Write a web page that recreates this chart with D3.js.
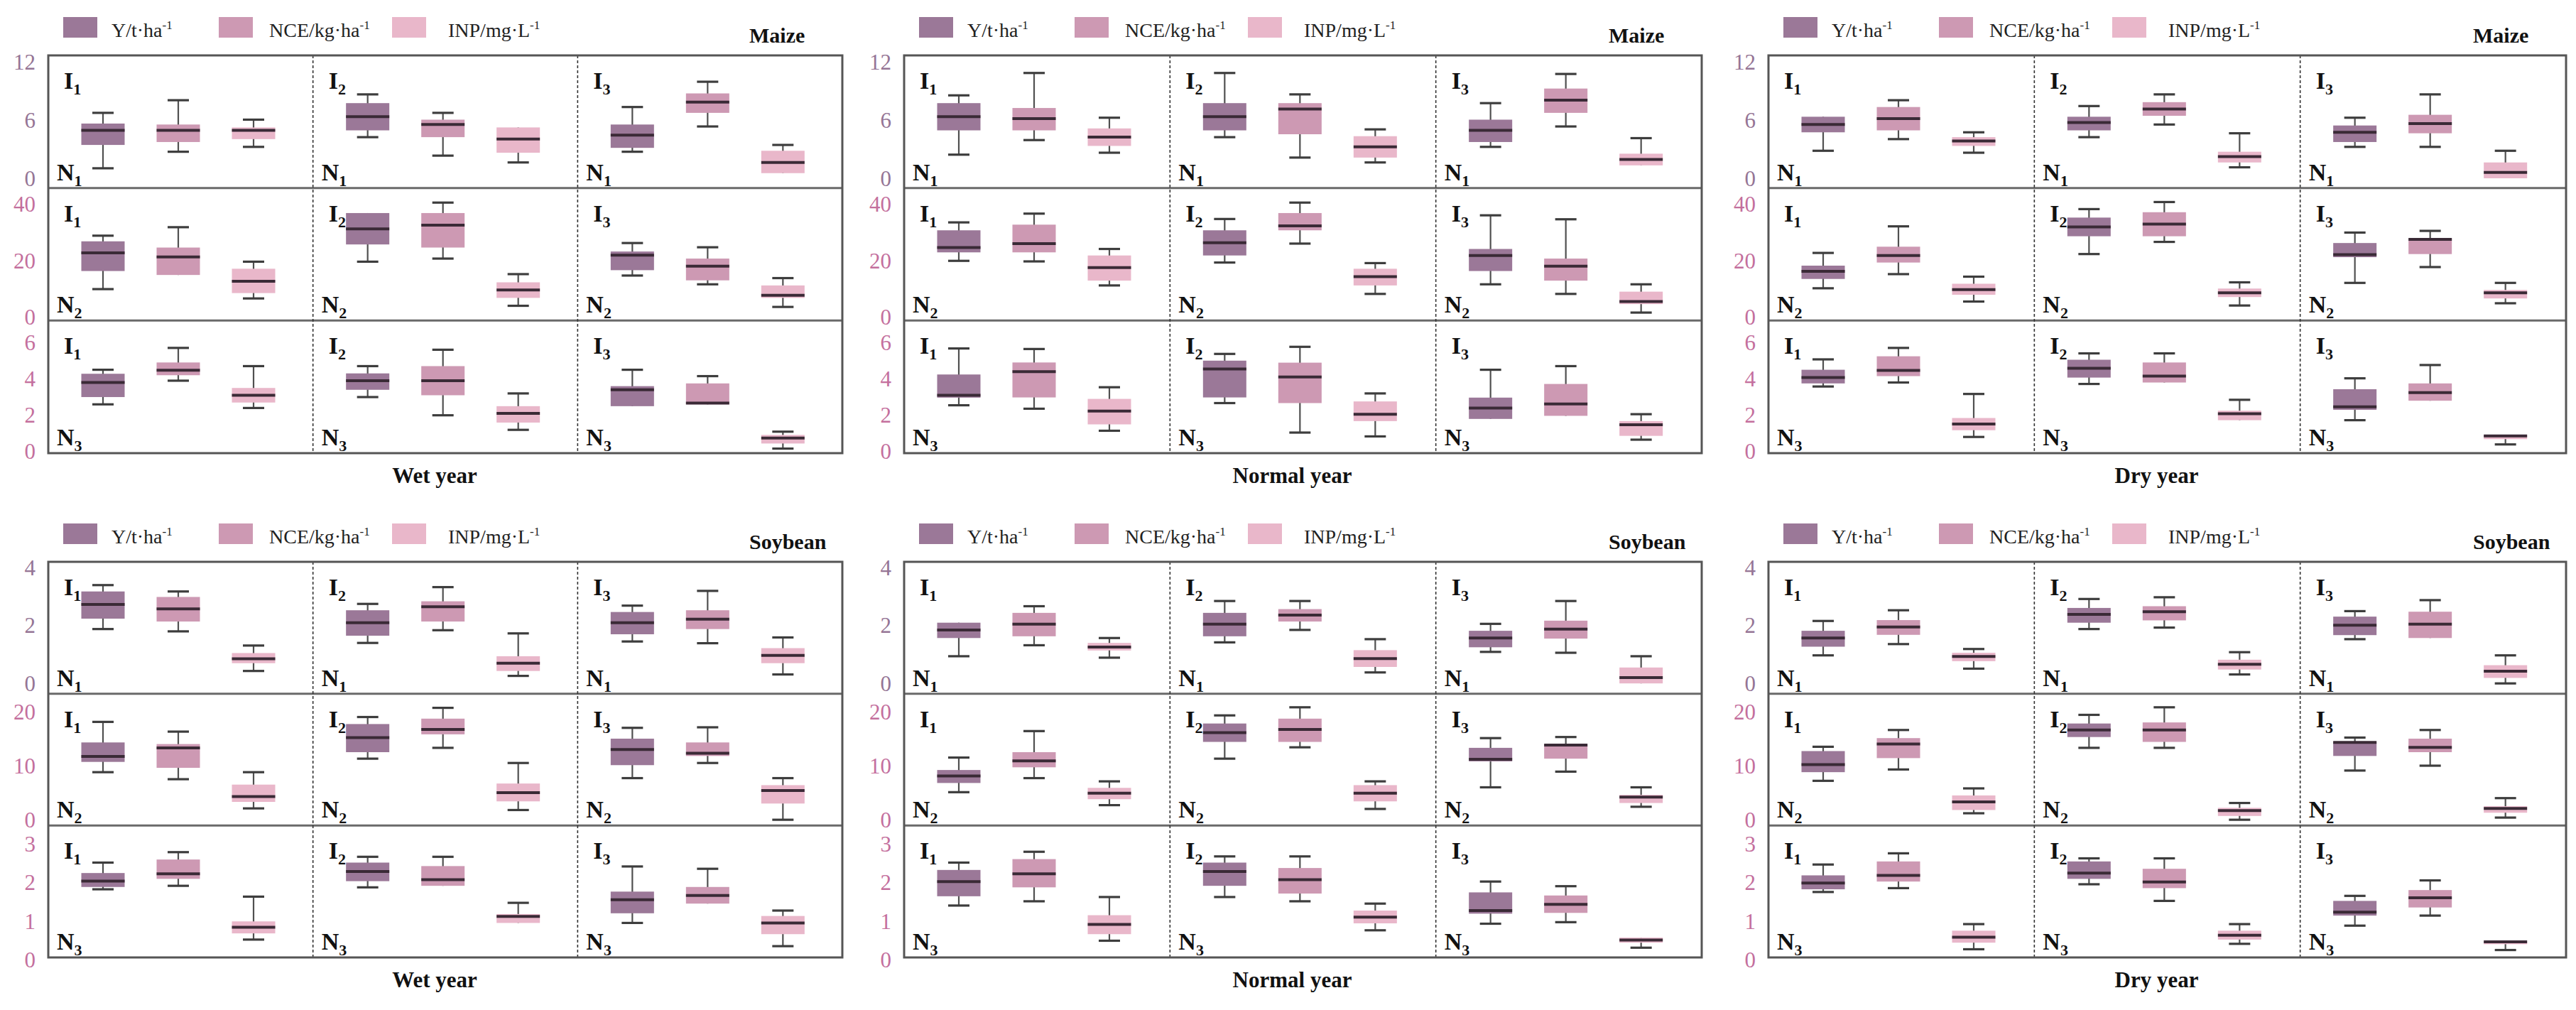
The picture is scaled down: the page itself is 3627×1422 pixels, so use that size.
<!DOCTYPE html>
<html>
<head>
<meta charset="utf-8">
<script src="https://cdn.jsdelivr.net/npm/d3@7"></script>
<style>
body { margin: 0; background: #fff; }
text { font-family: "Liberation Serif", "Times New Roman", serif; }
</style>
</head>
<body>
<svg id="chart"></svg>
<script>
const metrics = ['Y', 'NCE', 'INP'];
const legendLabels = ['Y/t·ha', 'NCE/kg·ha', 'INP/mg·L'];
const irrigation = ['1', '2', '3'];
const nitrogen = ['1', '2', '3'];
const years = ['Wet year', 'Normal year', 'Dry year'];
const crops = ['Maize', 'Soybean'];
const maizeTicks = [[0, 6, 12], [0, 20, 40], [0, 2, 4, 6]];
const soyTicks = [[0, 2, 4], [0, 10, 20], [0, 1, 2, 3]];

// box stats [min, q1, median, q3, max]
// rows N1..N3 -> cols I1..I3 -> Y, NCE, INP
const maizeWet = [
  [[[1.1,3.5,5.0,5.7,6.8],[2.8,3.8,5.0,5.6,8.1],[3.3,4.1,5.0,5.3,6.1]],
   [[4.3,5.0,6.4,7.8,8.7],[2.4,4.3,5.6,6.1,6.8],[1.7,2.7,4.1,5.3,5.3]],
   [[2.8,3.2,4.5,5.6,7.4],[5.4,6.8,7.9,8.8,10.0],[0.6,0.6,1.7,2.9,3.5]]],
  [[[10,16.4,22.8,26.9,28.9],[15,15,21.4,24.7,31.9],[6.7,8.6,12.8,17.2,19.7]],
   [[19.7,25.8,31.3,36.9,36.9],[20.8,24.7,32.6,36.9,40.6],[4.1,6.9,9.7,12.4,15.3]],
   [[14.8,16.7,22,23.3,26.3],[11.7,13.1,18.1,20.8,24.8],[3.7,6.9,7.8,11.3,13.9]]],
  [[[2.6,3.0,3.8,4.28,4.5],[3.9,4.2,4.47,4.9,5.7],[2.4,2.7,3.1,3.5,4.7]],
   [[3.0,3.4,3.9,4.3,4.7],[2.0,3.1,3.9,4.7,5.6],[1.2,1.6,2.1,2.5,3.2]],
   [[2.5,2.5,3.4,3.6,4.5],[2.6,2.6,2.67,3.75,4.15],[0.17,0.45,0.75,0.92,1.1]]]
];
const maizeNormal = [
  [[[2.5,5.0,6.4,7.8,8.6],[4.0,5.0,6.2,7.3,10.9],[2.7,3.4,4.3,5.2,6.3]],
   [[4.3,5.0,6.4,7.8,10.9],[2.2,4.6,7.2,7.8,8.7],[1.7,2.2,3.3,4.4,5.1]],
   [[3.3,3.8,5.0,6.1,7.8],[5.4,6.8,8.1,9.3,10.8],[1.4,1.4,2.0,2.6,4.2]]],
  [[[20,23,24.7,30.8,33.6],[19.8,23,26.1,32.8,36.7],[11.3,13,17.6,21.9,24.2]],
   [[19.4,21.9,26.4,30.8,34.8],[26.1,30.8,32.4,36.9,40.6],[8.3,11.3,14.4,17.2,19.2]],
   [[11.7,16.4,21.9,24.2,36.1],[8.3,13,18.1,20.8,34.7],[1.7,4.7,5.6,9.1,11.7]]],
  [[[2.55,2.97,3.1,4.24,5.67],[2.36,2.98,4.4,4.9,5.64],[1.15,1.5,2.23,2.9,3.54]],
   [[2.67,2.98,4.54,5.0,5.37],[1.05,2.67,4.1,4.89,5.76],[0.84,1.68,2.06,2.76,3.2]],
   [[1.8,1.8,2.4,2.97,4.5],[1.97,1.97,2.62,3.72,4.7],[0.66,0.87,1.48,1.68,2.06]]]
];
const maizeDry = [
  [[[2.9,4.8,5.6,6.4,6.4],[4.1,5.0,6.2,7.4,8.1],[2.7,3.4,3.9,4.3,4.8]],
   [[4.3,5.0,5.8,6.4,7.5],[5.6,6.5,7.2,7.9,8.7],[1.2,1.7,2.3,2.8,4.7]],
   [[3.3,3.8,4.8,5.5,6.3],[3.3,4.7,5.7,6.6,8.7],[0.07,0.07,0.67,1.7,2.9]]],
  [[[10.3,13.6,16.3,18.3,22.8],[15.3,19.4,21.9,25,32.2],[5.6,8,9.8,11.9,14.4]],
   [[22.4,28.7,32,35.3,38.3],[26.7,28.7,33,37.2,40.8],[4.2,7.2,8.7,10.2,12.4]],
   [[12.2,21.3,22.2,26.3,30],[17.8,22.4,27.6,27.8,30.6],[5,6.7,8.7,9.7,12.2]]],
  [[[3.58,3.75,4.07,4.5,5.07],[3.8,4.15,4.46,5.24,5.7],[0.81,1.18,1.52,1.85,3.17]],
   [[3.72,4.07,4.58,5.05,5.4],[3.8,3.8,4.15,4.9,5.4],[1.73,1.73,2.08,2.25,2.85]],
   [[1.73,2.3,2.47,3.43,4.03],[2.8,2.8,3.25,3.75,4.76],[0.4,0.69,0.87,0.9,0.9]]]
];
const soyWet = [
  [[[1.88,2.24,2.73,3.18,3.4],[1.8,2.14,2.58,2.99,3.18],[0.43,0.7,0.85,1.05,1.31]],
   [[1.4,1.65,2.1,2.53,2.75],[1.84,2.14,2.65,2.84,3.33],[0.26,0.43,0.7,0.94,1.73]],
   [[1.45,1.7,2.1,2.47,2.69],[1.39,1.88,2.22,2.53,3.2],[0.31,0.7,0.97,1.22,1.59]]],
  [[[8.9,10.8,11.8,14.4,18.2],[7.6,9.7,13.4,14.1,16.4],[2.2,3.4,4.4,6.6,8.9]],
   [[11.4,12.6,15.3,17.8,19.1],[13.4,15.9,16.8,18.8,20.8],[1.9,3.5,5.1,6.8,10.6]],
   [[7.8,10.2,13.1,15.1,17.1],[10.6,11.9,12.4,14.4,17.2],[0.1,3.1,5.5,6.5,7.8]]],
  [[[1.83,1.89,2.04,2.25,2.52],[1.92,2.1,2.23,2.6,2.79],[0.53,0.69,0.85,1.0,1.64]],
   [[1.88,2.04,2.29,2.52,2.67],[1.92,1.92,2.08,2.43,2.67],[0.96,0.96,1.13,1.19,1.48]],
   [[0.96,1.21,1.56,1.77,2.42],[1.46,1.46,1.67,1.89,2.36],[0.36,0.67,0.96,1.14,1.28]]]
];
const soyNormal = [
  [[[0.94,1.57,1.85,2.1,2.1],[1.32,1.63,2.05,2.44,2.67],[0.89,1.14,1.26,1.4,1.57]],
   [[1.42,1.63,2.05,2.44,2.85],[1.85,2.14,2.36,2.57,2.85],[0.38,0.57,0.86,1.15,1.53]],
   [[1.09,1.25,1.57,1.82,2.06],[1.06,1.55,1.88,2.17,2.85],[0.0,0.0,0.2,0.55,0.94]]],
  [[[5.2,6.9,8.2,9.3,11.6],[7.8,9.8,11,12.6,16.5],[2.8,3.9,5,6,7.2]],
   [[11.4,14.5,16.2,17.9,19.4],[13.5,14.5,16.8,18.8,20.9],[2.1,3.5,5,6.5,7.2]],
   [[6.1,10.9,11.3,13.4,15.2],[9,11.4,13.9,14,15.4],[2.5,3.2,4.3,4.7,6.1]]],
  [[[1.41,1.65,2.03,2.33,2.52],[1.52,1.88,2.23,2.61,2.8],[0.5,0.67,0.92,1.16,1.63]],
   [[1.63,1.92,2.29,2.52,2.68],[1.52,1.72,2.08,2.38,2.68],[0.77,0.95,1.11,1.28,1.46]],
   [[0.94,1.2,1.28,1.75,2.03],[0.98,1.22,1.44,1.67,1.91],[0.32,0.45,0.52,0.58,0.58]]]
];
const soyDry = [
  [[[0.97,1.27,1.57,1.82,2.16],[1.36,1.68,1.95,2.19,2.53],[0.51,0.77,0.93,1.06,1.19]],
   [[1.88,2.1,2.39,2.61,2.92],[1.93,2.18,2.48,2.67,2.98],[0.31,0.48,0.66,0.82,1.08]],
   [[1.53,1.67,2.01,2.31,2.5],[1.57,1.57,2.05,2.48,2.88],[0.0,0.19,0.42,0.63,0.97]]],
  [[[7.3,8.9,10.3,12.8,13.6],[9.4,11.5,14.1,15.2,16.7],[1.3,1.9,3.4,4.6,5.9]],
   [[13.4,15.4,16.7,17.9,19.5],[13.4,14.5,16.7,18.1,20.9],[0.1,0.8,1.8,2.3,3.2]],
   [[9.2,11.9,14.4,14.5,15.3],[10.1,12.6,13.5,15.1,16.7],[0.5,1.4,2.2,2.6,4.1]]],
  [[[1.76,1.83,1.99,2.19,2.47],[1.86,2.03,2.19,2.55,2.76],[0.28,0.45,0.59,0.76,0.93]],
   [[1.96,2.1,2.25,2.55,2.63],[1.53,1.86,2.02,2.36,2.63],[0.42,0.53,0.64,0.76,0.93]],
   [[0.89,1.15,1.24,1.53,1.66],[1.15,1.36,1.61,1.81,2.06],[0.26,0.41,0.47,0.49,0.49]]]
];

const width = 3627, height = 1422;
const svg = d3.select('#chart').attr('width', width).attr('height', height);

const colors = ['#9b7898', '#cd99b3', '#e9b7ca'];
const tickColors = ['#957595', '#c46f9d', '#c46f9d'];
const panelCols = [[68, 1186], [1273, 2396], [2490, 3613]];
const panelRows = [[78, 638], [791, 1348]];
// where the top tick and zero sit inside each N row (fraction of row height)
const rowFrac = [
  [[0.052, 0.932], [0.123, 0.976], [0.165, 0.989]],
  [[0.045, 0.922], [0.14, 0.96], [0.14, 1.02]]
];

const panels = [
  { crop: 0, year: 0, data: maizeWet, ticks: maizeTicks },
  { crop: 0, year: 1, data: maizeNormal, ticks: maizeTicks },
  { crop: 0, year: 2, data: maizeDry, ticks: maizeTicks },
  { crop: 1, year: 0, data: soyWet, ticks: soyTicks },
  { crop: 1, year: 1, data: soyNormal, ticks: soyTicks },
  { crop: 1, year: 2, data: soyDry, ticks: soyTicks }
];

const boxW = 61, capW = 30;

panels.forEach(p => {
  const [x0, x1] = panelCols[p.year];
  const [y0, y1] = panelRows[p.crop];
  const g = svg.append('g');

  const xCol = d3.scaleBand().domain(irrigation).range([x0, x1]);
  const yRow = d3.scaleBand().domain(nitrogen).range([y0, y1]);
  const xIn = d3.scalePoint().domain(metrics).range([77, 289]);

  // legend
  const leg = g.append('g');
  const legX = [21, 240, 484], legT = [89, 311, 563];
  metrics.forEach((m, i) => {
    leg.append('rect')
      .attr('x', x0 + legX[i]).attr('y', y0 - 54)
      .attr('width', 48).attr('height', 29)
      .attr('fill', colors[i]);
    const t = leg.append('text')
      .attr('x', x0 + legT[i]).attr('y', y0 - 26)
      .attr('font-size', 28).attr('fill', '#222')
      .text(legendLabels[i]);
    t.append('tspan').attr('dy', -11).attr('font-size', 17).text('-1');
  });

  g.append('text')
    .attr('x', x1 - 131).attr('y', y0 - 18)
    .attr('font-size', 30).attr('font-weight', 'bold').attr('fill', '#111')
    .text(crops[p.crop]);

  g.append('text')
    .attr('x', (x0 + x1) / 2 - 15).attr('y', y1 + 42)
    .attr('text-anchor', 'middle')
    .attr('font-size', 31).attr('font-weight', 'bold').attr('fill', '#111')
    .text(years[p.year]);

  // separators
  nitrogen.slice(1).forEach(n => {
    g.append('line')
      .attr('x1', x0).attr('x2', x1)
      .attr('y1', yRow(n)).attr('y2', yRow(n))
      .attr('stroke', '#6a6a6a').attr('stroke-width', 3);
  });
  irrigation.slice(1).forEach(c => {
    g.append('line')
      .attr('x1', xCol(c)).attr('x2', xCol(c))
      .attr('y1', y0).attr('y2', y1)
      .attr('stroke', '#333').attr('stroke-width', 1.6)
      .attr('stroke-dasharray', '4,3');
  });

  nitrogen.forEach((n, r) => {
    const top = yRow(n), h = yRow.bandwidth();
    const fr = rowFrac[p.crop][r];
    const ticks = p.ticks[r];
    const y = d3.scaleLinear()
      .domain([0, d3.max(ticks)])
      .range([top + h * fr[1], top + h * fr[0]]);

    const ax = g.append('g')
      .attr('transform', `translate(${x0},0)`)
      .call(d3.axisLeft(y).tickValues(ticks).tickSize(0).tickPadding(18).tickFormat(d3.format('d')));
    ax.select('.domain').remove();
    ax.selectAll('text')
      .attr('font-family', '"Liberation Serif", serif')
      .attr('font-size', 31)
      .attr('fill', tickColors[r]);

    irrigation.forEach((c, ci) => {
      const left = xCol(c);

      const lab = g.append('text')
        .attr('x', left + 22).attr('y', top + 47)
        .attr('font-size', 34).attr('font-weight', 'bold').attr('fill', '#111');
      lab.append('tspan').text('I');
      lab.append('tspan').attr('dy', 8).attr('font-size', 22).text(c);

      const nl = g.append('text')
        .attr('x', left + 12).attr('y', top + h - 11)
        .attr('font-size', 34).attr('font-weight', 'bold').attr('fill', '#111');
      nl.append('tspan').text('N');
      nl.append('tspan').attr('dy', 8).attr('font-size', 22).text(n);

      metrics.forEach((m, mi) => {
        const s = p.data[r][ci][mi];
        const cx = left + xIn(m);
        const bg = g.append('g');
        bg.append('line')
          .attr('x1', cx).attr('x2', cx)
          .attr('y1', y(s[0])).attr('y2', y(s[4]))
          .attr('stroke', '#505050').attr('stroke-width', 2.2);
        if (y(s[0]) - y(s[1]) > 1.5) {
          bg.append('line')
            .attr('x1', cx - capW / 2).attr('x2', cx + capW / 2)
            .attr('y1', y(s[0])).attr('y2', y(s[0]))
            .attr('stroke', '#3d3d3d').attr('stroke-width', 3.2);
        }
        if (y(s[3]) - y(s[4]) > 1.5) {
          bg.append('line')
            .attr('x1', cx - capW / 2).attr('x2', cx + capW / 2)
            .attr('y1', y(s[4])).attr('y2', y(s[4]))
            .attr('stroke', '#3d3d3d').attr('stroke-width', 3.2);
        }
        bg.append('rect')
          .attr('x', cx - boxW / 2).attr('width', boxW)
          .attr('y', y(s[3])).attr('height', Math.max(2, y(s[1]) - y(s[3])))
          .attr('fill', colors[mi]);
        bg.append('line')
          .attr('x1', cx - boxW / 2).attr('x2', cx + boxW / 2)
          .attr('y1', y(s[2])).attr('y2', y(s[2]))
          .attr('stroke', '#3a2a36').attr('stroke-width', 4);
      });
    });
  });

  g.append('rect')
    .attr('x', x0).attr('y', y0)
    .attr('width', x1 - x0).attr('height', y1 - y0)
    .attr('fill', 'none').attr('stroke', '#555').attr('stroke-width', 3);
});
</script>
</body>
</html>
